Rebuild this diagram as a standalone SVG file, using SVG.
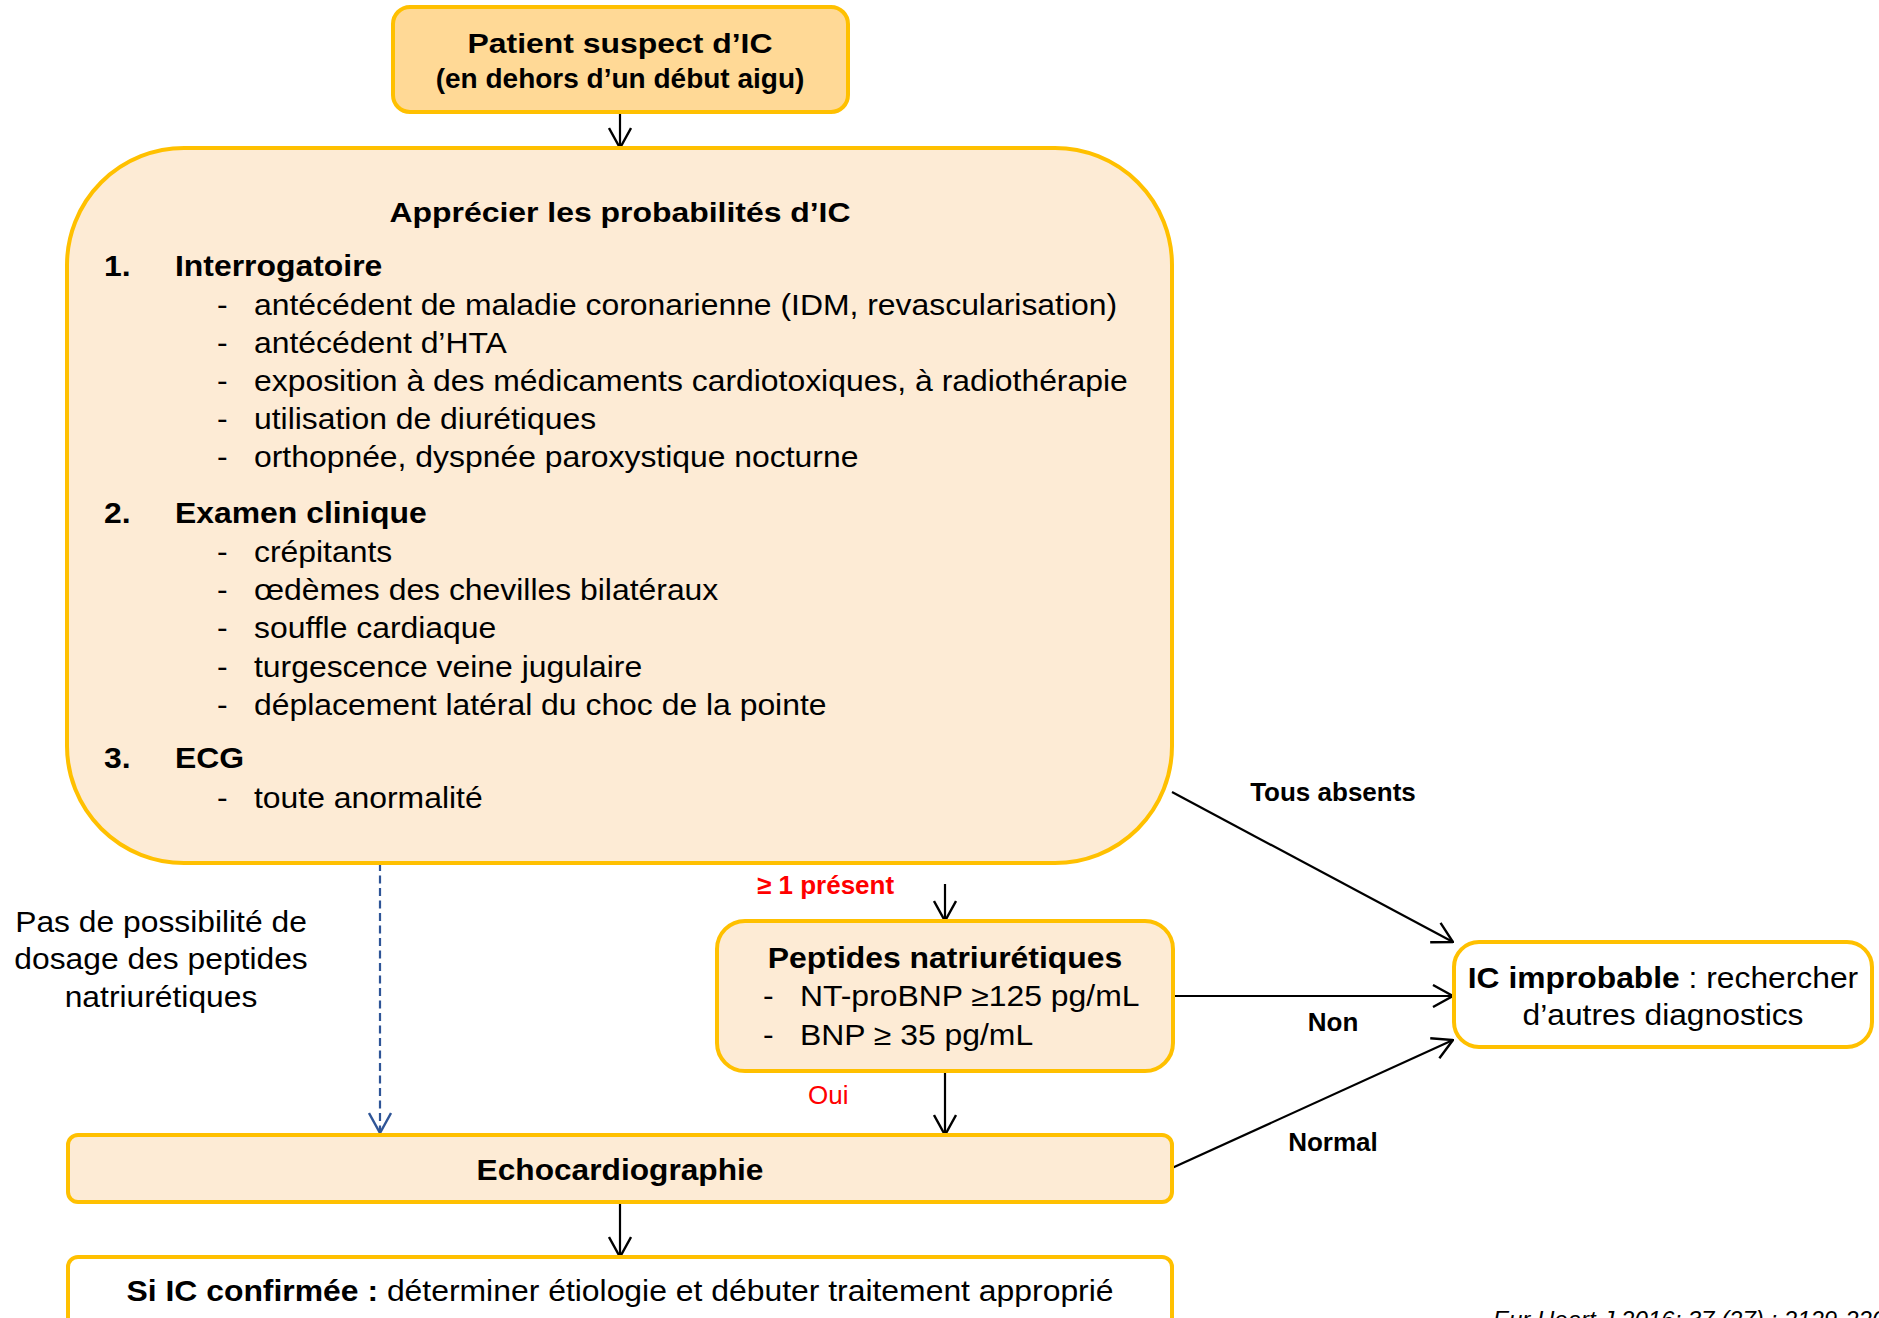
<svg xmlns="http://www.w3.org/2000/svg" width="1879" height="1318" viewBox="0 0 1879 1318">
<style>
text{font-family:"Liberation Sans",Arial,Helvetica,sans-serif;fill:#000}
.r{font-size:29px}
.b{font-size:29px;font-weight:bold}
.lbl{font-size:26px;font-weight:bold}
.red{fill:#FF0000}
.box{stroke:#FFC000;stroke-width:4}
.light{fill:#FDEBD5}
.dark{fill:#FFD996}
.white{fill:#FFFFFF}
.con{stroke:#000;stroke-width:2.2;fill:none}
.dash{stroke:#2F5597;stroke-width:2.2;fill:none;stroke-dasharray:8 4.5}
.mid{text-anchor:middle}
</style>
<defs>
<marker id="ah" viewBox="0 0 22 24" refX="21" refY="12" markerWidth="22" markerHeight="24" markerUnits="userSpaceOnUse" orient="auto">
<path d="M1,1 L21,12 L1,23" fill="none" stroke="#000" stroke-width="2.4"/>
</marker>
<marker id="ahb" viewBox="0 0 22 24" refX="21" refY="12" markerWidth="22" markerHeight="24" markerUnits="userSpaceOnUse" orient="auto">
<path d="M1,1 L21,12 L1,23" fill="none" stroke="#2F5597" stroke-width="2.4"/>
</marker>
</defs>
<rect width="1879" height="1318" fill="#FFFFFF"/>

<g id="connectors">
<line class="con" x1="620" y1="112" x2="620" y2="148" marker-end="url(#ah)"/>
<line class="con" x1="945" y1="884" x2="945" y2="921" marker-end="url(#ah)"/>
<line class="dash" x1="380" y1="863" x2="380" y2="1133" marker-end="url(#ahb)"/>
<line class="con" x1="945" y1="1071" x2="945" y2="1135" marker-end="url(#ah)"/>
<line class="con" x1="1172" y1="792" x2="1453" y2="942" marker-end="url(#ah)"/>
<line class="con" x1="1173" y1="996" x2="1453" y2="996" marker-end="url(#ah)"/>
<line class="con" x1="1172" y1="1168" x2="1453" y2="1040" marker-end="url(#ah)"/>
<line class="con" x1="620" y1="1202" x2="620" y2="1257" marker-end="url(#ah)"/>
<text class="lbl mid" x="1333" y="801">Tous absents</text>
<text class="lbl mid" x="1333" y="1031">Non</text>
<text class="lbl mid" x="1333" y="1151">Normal</text>
<text class="lbl red" x="757" y="894">≥ 1 présent</text>
<text class="red" x="808" y="1104" style="font-size:26px">Oui</text>
<text class="r mid" transform="translate(161 932) scale(1.06 1)" style="font-size:30px">Pas de possibilité de</text>
<text class="r mid" transform="translate(161 969) scale(1.06 1)" style="font-size:30px">dosage des peptides</text>
<text class="r mid" transform="translate(161 1007) scale(1.06 1)" style="font-size:30px">natriurétiques</text>
</g>

<g id="node-patient">
<rect class="box dark" x="393" y="7" width="455" height="105" rx="17"/>
<text class="b mid" transform="translate(620 53) scale(1.14 1)" style="font-size:28px">Patient suspect d’IC</text>
<text class="b mid" transform="translate(620 88)" style="font-size:28px">(en dehors d’un début aigu)</text>
</g>

<g id="node-probabilites">
<rect class="box light" x="67" y="148" width="1105" height="715" rx="117"/>
<text class="b mid" transform="translate(620 222) scale(1.14 1)" style="font-size:28px">Apprécier les probabilités d’IC</text>
<text class="b" transform="translate(104 276) scale(1.1 1)">1.</text>
<text class="b" transform="translate(175 276) scale(1.1 1)">Interrogatoire</text>
<text class="r" transform="translate(217 315) scale(1.1 1)">-</text>
<text class="r" transform="translate(254 315) scale(1.1 1)">antécédent de maladie coronarienne (IDM, revascularisation)</text>
<text class="r" transform="translate(217 353) scale(1.1 1)">-</text>
<text class="r" transform="translate(254 353) scale(1.1 1)">antécédent d’HTA</text>
<text class="r" transform="translate(217 391) scale(1.1 1)">-</text>
<text class="r" transform="translate(254 391) scale(1.1 1)">exposition à des médicaments cardiotoxiques, à radiothérapie</text>
<text class="r" transform="translate(217 429) scale(1.1 1)">-</text>
<text class="r" transform="translate(254 429) scale(1.1 1)">utilisation de diurétiques</text>
<text class="r" transform="translate(217 467) scale(1.1 1)">-</text>
<text class="r" transform="translate(254 467) scale(1.1 1)">orthopnée, dyspnée paroxystique nocturne</text>
<text class="b" transform="translate(104 523) scale(1.1 1)">2.</text>
<text class="b" transform="translate(175 523) scale(1.1 1)">Examen clinique</text>
<text class="r" transform="translate(217 562) scale(1.1 1)">-</text>
<text class="r" transform="translate(254 562) scale(1.1 1)">crépitants</text>
<text class="r" transform="translate(217 600) scale(1.1 1)">-</text>
<text class="r" transform="translate(254 600) scale(1.1 1)">œdèmes des chevilles bilatéraux</text>
<text class="r" transform="translate(217 638) scale(1.1 1)">-</text>
<text class="r" transform="translate(254 638) scale(1.1 1)">souffle cardiaque</text>
<text class="r" transform="translate(217 677) scale(1.1 1)">-</text>
<text class="r" transform="translate(254 677) scale(1.1 1)">turgescence veine jugulaire</text>
<text class="r" transform="translate(217 715) scale(1.1 1)">-</text>
<text class="r" transform="translate(254 715) scale(1.1 1)">déplacement latéral du choc de la pointe</text>
<text class="b" transform="translate(104 768) scale(1.1 1)">3.</text>
<text class="b" transform="translate(175 768) scale(1.1 1)">ECG</text>
<text class="r" transform="translate(217 808) scale(1.1 1)">-</text>
<text class="r" transform="translate(254 808) scale(1.1 1)">toute anormalité</text>
</g>

<g id="node-peptides">
<rect class="box light" x="717" y="921" width="456" height="150" rx="28"/>
<text class="b mid" transform="translate(945 968) scale(1.1 1)">Peptides natriurétiques</text>
<text class="r" transform="translate(763 1006) scale(1.1 1)">-</text>
<text class="r" transform="translate(800 1006) scale(1.1 1)">NT-proBNP ≥125 pg/mL</text>
<text class="r" transform="translate(763 1045) scale(1.1 1)">-</text>
<text class="r" transform="translate(800 1045) scale(1.1 1)">BNP ≥ 35 pg/mL</text>
</g>

<g id="node-improbable">
<rect class="box white" x="1454" y="942" width="418" height="105" rx="25"/>
<text class="r mid" transform="translate(1663 988) scale(1.06 1)" style="font-size:30px"><tspan font-weight="bold">IC improbable</tspan> : rechercher</text>
<text class="r mid" transform="translate(1663 1025) scale(1.06 1)" style="font-size:30px">d’autres diagnostics</text>
</g>

<g id="node-echo">
<rect class="box light" x="68" y="1135" width="1104" height="67" rx="10"/>
<text class="b mid" transform="translate(620 1180) scale(1.093 1)">Echocardiographie</text>
</g>

<g id="node-confirmee">
<rect class="box white" x="68" y="1257" width="1104" height="90" rx="10"/>
<text class="r mid" transform="translate(620 1301) scale(1.1 1)"><tspan font-weight="bold">Si IC confirmée : </tspan>déterminer étiologie et débuter traitement approprié</text>
</g>

<text x="1493" y="1328" style="font-size:24px;font-style:italic">Eur Heart J 2016; 37 (27) : 2129-2200</text>
</svg>
